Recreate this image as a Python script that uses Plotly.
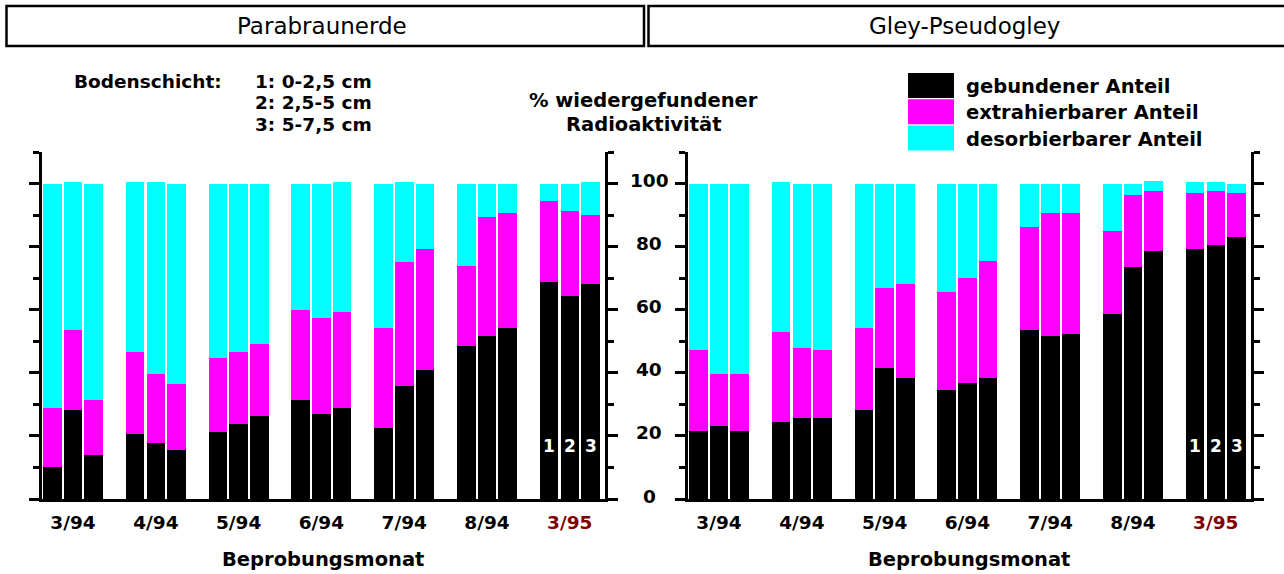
import plotly.graph_objects as go

W, H = 1284, 574

# Sampling months (x categories) and the three soil layers per month
months = ["3/94", "4/94", "5/94", "6/94", "7/94", "8/94", "3/95"]
month_colors = ["#000000"] * 6 + ["#800000"]
depth_labels = ["1: 0-2,5 cm", "2: 2,5-5 cm", "3: 5-7,5 cm"]
layer_ids = ["1", "2", "3"]

# Fractions of recovered radioactivity (%), stacked bottom to top
series_names = ["gebundener Anteil", "extrahierbarer Anteil", "desorbierbarer Anteil"]
series_colors = ["#000000", "#ff00ff", "#00ffff"]

# Parabraunerde: values ordered month by month, layers 1-3 within a month
para_gebunden = [10.3, 28.1, 14.1, 20.5, 17.9, 15.4, 21.1, 23.7, 26.2,
                 31.3, 26.9, 28.8, 22.4, 35.8, 40.9, 48.4, 51.7, 54.2,
                 68.9, 64.4, 68.3]
para_extrahierbar = [18.5, 25.5, 17.2, 26.1, 21.6, 21.0, 23.5, 22.9, 23.0,
                     28.7, 30.5, 30.5, 31.8, 39.4, 38.2, 25.6, 37.6, 36.4,
                     25.5, 26.8, 21.6]
para_desorbierbar = [71.2, 47.0, 68.7, 54.0, 61.1, 63.6, 55.4, 53.4, 50.8,
                     40.0, 42.6, 41.3, 45.8, 25.4, 20.9, 26.0, 10.7, 9.4,
                     5.6, 8.8, 10.7]

# Gley-Pseudogley
gley_gebunden = [21.7, 23.0, 21.7, 24.3, 25.6, 25.6, 28.1, 41.5, 38.3,
                 34.5, 36.9, 38.3, 53.6, 51.7, 52.3, 58.7, 73.4, 78.5,
                 79.1, 80.4, 82.9]
gley_extrahierbar = [25.5, 16.5, 17.8, 28.7, 22.3, 21.6, 26.1, 25.5, 30.0,
                     31.2, 33.3, 37.0, 32.5, 38.9, 38.3, 26.1, 22.9, 19.1,
                     17.8, 17.2, 14.0]
gley_desorbierbar = [52.8, 60.5, 60.5, 47.6, 52.1, 52.8, 45.8, 33.0, 31.7,
                     34.3, 29.8, 24.7, 13.9, 9.4, 9.4, 15.2, 3.7, 3.1,
                     3.7, 3.0, 3.1]

panel_titles = ["Parabraunerde", "Gley-Pseudogley"]
y_ticks = [0, 20, 40, 60, 80, 100]
x_title = "Beprobungsmonat"
y_title = ["% wiedergefundener", "Radioaktivität"]
layer_title = "Bodenschicht:"

FONT = "DejaVu Sans"
BOLD = dict(family=FONT, size=19.5, color="black", weight="bold")
KEY_FONT = dict(family=FONT, size=18.5, color="black", weight="bold")

# bar slots: three bars per month, one empty slot between months
n_layers = 3
slot = n_layers + 1
bar_x = [slot * m + k for m in range(len(months)) for k in range(n_layers)]
group_centers = [slot * m + 1 for m in range(len(months))]


def px(x):
    return x / W


def py(y):
    return 1 - y / H


fig = go.Figure()

panels = [
    ((para_gebunden, para_extrahierbar, para_desorbierbar), "x", "y"),
    ((gley_gebunden, gley_extrahierbar, gley_desorbierbar), "x2", "y2"),
]
for vals3, xa, ya in panels:
    for name, color, vals in zip(series_names, series_colors, vals3):
        fig.add_trace(go.Bar(
            x=bar_x, y=vals, name=name, width=0.9,
            marker=dict(color=color, line=dict(width=0)),
            xaxis=xa, yaxis=ya, showlegend=False,
        ))

tick_text = [f'<span style="color:{c}">{m}</span>' for m, c in zip(months, month_colors)]

x_common = dict(
    range=[-0.5, 26.7], showline=True, linewidth=3, linecolor="black",
    ticks="", tickvals=group_centers, ticktext=tick_text, ticklabelstandoff=5,
    tickfont=dict(family=FONT, size=18.5, color="black", weight="bold"),
    showgrid=False, zeroline=False, fixedrange=True,
)
y_common = dict(
    range=[0, 110], domain=[py(499), py(152)], showline=True, linewidth=3,
    linecolor="black", mirror="ticks", ticks="outside", ticklen=10,
    tickwidth=2.5, tickcolor="black", tick0=0, dtick=20,
    minor=dict(dtick=10, ticklen=6, tickwidth=2.5, tickcolor="black", ticks="outside"),
    showticklabels=False, showgrid=False, zeroline=False, fixedrange=True,
)

fig.update_layout(
    width=W, height=H, margin=dict(l=0, r=0, t=0, b=0),
    paper_bgcolor="white", plot_bgcolor="white",
    barmode="stack", bargap=0, showlegend=False,
    xaxis=dict(domain=[px(42), px(605)], anchor="y", **x_common),
    yaxis=dict(anchor="x", **y_common),
    xaxis2=dict(domain=[px(688), px(1251)], anchor="y2", **x_common),
    yaxis2=dict(anchor="x2", **y_common),
)

shapes = []
annotations = []

# header boxes with the soil type names
for (x0, x1), title, cx in zip([(6.5, 644), (648.5, 1292)], panel_titles, [322, 965]):
    shapes.append(dict(type="rect", xref="paper", yref="paper",
                       x0=px(x0), x1=px(x1), y0=py(46), y1=py(6),
                       line=dict(color="black", width=2.5), fillcolor="rgba(0,0,0,0)"))
    annotations.append(dict(text=title, xref="paper", yref="paper", x=px(cx), y=py(26),
                            xanchor="center", yanchor="middle", showarrow=False,
                            font=dict(family=FONT, size=23, color="black")))

# y tick numbers shared between the two panels
for v in y_ticks:
    annotations.append(dict(text=str(v), xref="paper", yref="y", x=px(649), y=v,
                            xanchor="center", yanchor="middle", showarrow=False, yshift=3,
                            font=dict(family=FONT, size=18.5, color="black", weight="bold")))

# soil layer numbers inside the last month's bars
for xa in ["x", "x2"]:
    for k, lid in enumerate(layer_ids):
        annotations.append(dict(text=lid, xref=xa, yref="y", x=bar_x[-n_layers + k], y=16.8,
                                xanchor="center", yanchor="middle", showarrow=False,
                                font=dict(family=FONT, size=17, color="white", weight="bold")))

# x axis titles
for cx in [323, 969]:
    annotations.append(dict(text=x_title, xref="paper", yref="paper", x=px(cx), y=py(559),
                            xanchor="center", yanchor="middle", showarrow=False, font=BOLD))

# soil layer key
annotations.append(dict(text=layer_title, xref="paper", yref="paper", x=px(72), y=py(81),
                        xanchor="left", yanchor="middle", showarrow=False, font=KEY_FONT))
for i, d in enumerate(depth_labels):
    annotations.append(dict(text=d, xref="paper", yref="paper", x=px(253), y=py(81 + 21.5 * i),
                            xanchor="left", yanchor="middle", showarrow=False, font=KEY_FONT))

# y axis title
for i, t in enumerate(y_title):
    annotations.append(dict(text=t, xref="paper", yref="paper", x=px(643.5), y=py(100 + 24 * i),
                            xanchor="center", yanchor="middle", showarrow=False, font=BOLD))

# series key
for i, (name, color) in enumerate(zip(series_names, series_colors)):
    y0 = 73 + 26.3 * i
    shapes.append(dict(type="rect", xref="paper", yref="paper",
                       x0=px(908), x1=px(954), y0=py(y0 + 25), y1=py(y0),
                       line=dict(width=0), fillcolor=color))
    annotations.append(dict(text=name, xref="paper", yref="paper", x=px(964), y=py(y0 + 13.5),
                            xanchor="left", yanchor="middle", showarrow=False, font=BOLD))

fig.update_layout(shapes=shapes, annotations=annotations)
fig.write_html("out.html")
